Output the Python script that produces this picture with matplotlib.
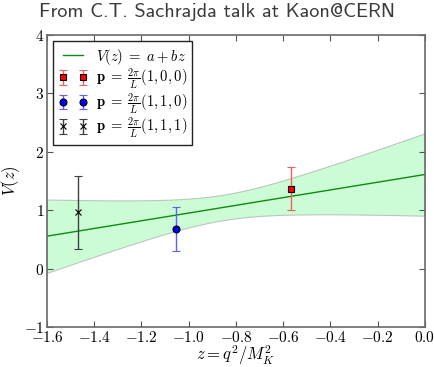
"""Form factor fit V(z) = a + b z with lattice points (Kaon@CERN slide)."""

import numpy as np
import matplotlib
matplotlib.use("Agg")
import matplotlib.pyplot as plt

plt.rcParams["mathtext.fontset"] = "cm"
plt.rcParams["font.family"] = "serif"
plt.rcParams["font.serif"] = ["cmr10", "DejaVu Serif"]
plt.rcParams["axes.formatter.use_mathtext"] = True

# Data points ----------------------------------------------------------------
z_pts = [-0.565, -1.055, -1.47]
v_pts = [1.37, 0.68, 0.96]
v_err = [0.36, 0.38, 0.63]
labels = [r"$\mathbf{p}\;=\;\frac{2\pi}{L}(1,0,0)$",
          r"$\mathbf{p}\;=\;\frac{2\pi}{L}(1,1,0)$",
          r"$\mathbf{p}\;=\;\frac{2\pi}{L}(1,1,1)$"]

# Fit parameters (a, b) and their covariance ---------------------------------
fit_a, fit_b = 1.61, 0.66
var_a, var_b, cov_ab = 0.497, 0.62, 0.528

z = np.linspace(-1.6, 0.0, 200)
v_fit = fit_a + fit_b * z
v_sig = np.sqrt(var_a + 2 * z * cov_ab + z**2 * var_b)

fig = plt.figure(figsize=(4.34, 3.67), dpi=100)
ax = fig.add_axes([0.108, 0.109, 0.871, 0.796])

ax.fill_between(z, v_fit - v_sig, v_fit + v_sig, facecolor="#ccfcd6",
                edgecolor="#b8c8bc", linewidth=0.8, zorder=1)
ax.plot(z, v_fit, color="#108a10", linewidth=1.0,
        label=r"$V(z)\;=\;a\:+\:bz$", zorder=2)

styles = [dict(fmt="s", mfc="red", mec="black", ecolor="#f06060", ms=5),
          dict(fmt="o", mfc="blue", mec="black", ecolor="#6060f8", ms=5),
          dict(fmt="x", mfc="black", mec="black", ecolor="#404040", ms=4)]
for zi, vi, ei, lab, st in zip(z_pts, v_pts, v_err, labels, styles):
    ax.errorbar([zi], [vi], yerr=[ei], fmt=st["fmt"], mfc=st["mfc"], mec=st["mec"],
                ms=st["ms"], ecolor=st["ecolor"], elinewidth=1.0, capsize=3,
                capthick=1.0, mew=0.8, label=lab, zorder=3)

ax.set_xlim(-1.6, 0.0)
ax.set_ylim(-1, 4)
xt = np.arange(-1.6, 0.01, 0.2)
ax.set_xticks(xt)
ax.set_xticklabels([r"$%.1f$" % t if abs(t) > 1e-9 else r"$0.0$" for t in xt])
ax.set_yticks(range(-1, 5))
ax.tick_params(direction="in", top=True, right=True, length=4, labelsize=11,
               color="#555555", pad=2)
for sp in ax.spines.values():
    sp.set_color("#6a6a6a")
    sp.set_linewidth(1.2)

ax.set_xlabel(r"$z=q^2/M_K^2$", fontsize=12, labelpad=-1)
ax.set_ylabel(r"$V(z)$", fontsize=12, labelpad=1)

leg = ax.legend(loc="upper left", numpoints=2, fontsize=10.5, fancybox=False,
                framealpha=1, borderaxespad=0.45, handlelength=2.0,
                labelspacing=0.0, borderpad=0.35, handletextpad=0.55)
leg.get_frame().set_edgecolor("#222222")
leg.get_frame().set_linewidth(1.0)

fig.text(0.5, 0.967, "From C.T. Sachrajda talk at Kaon@CERN", ha="center",
         va="center", fontsize=14.5, color="#3a3a3a", family="cmss10")

fig.savefig("out.png", dpi=100, facecolor="white")
